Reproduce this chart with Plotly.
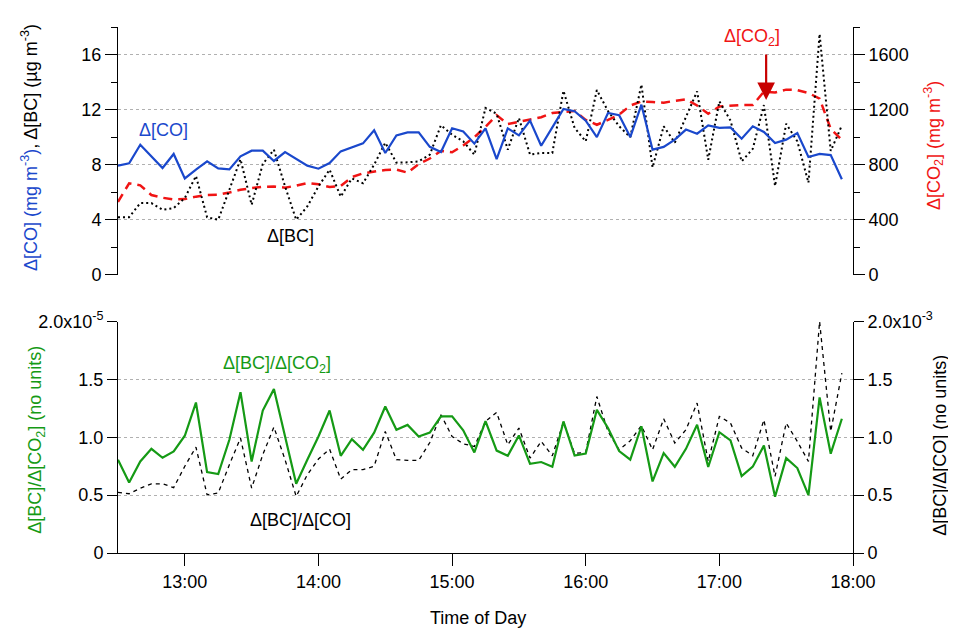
import plotly.graph_objects as go
import pandas as pd

# ---------------- data ----------------
start_time = "2000-01-01 12:30"
n_points = 66
step = "5min"

delta_co = [7.93, 8.10, 9.45, 8.60, 7.76, 8.78, 7.00, 7.64, 8.24, 7.73,
            7.66, 8.61, 9.02, 9.02, 8.27, 8.92, 8.41, 7.93, 7.71, 8.12,
            8.97, 9.28, 9.55, 10.50, 8.85, 10.13, 10.35, 10.35, 9.30, 8.92,
            10.65, 10.41, 9.53, 10.64, 8.41, 10.64, 10.13, 11.20, 9.38, 10.71,
            12.05, 11.88, 11.20, 10.00, 11.76, 11.59, 10.01, 12.36, 9.09, 9.29,
            9.82, 10.55, 10.25, 10.86, 10.67, 10.71, 9.89, 10.79, 10.38, 9.58,
            9.82, 10.30, 8.56, 8.78, 8.70, 6.94]

delta_bc = [4.19, 4.19, 5.21, 5.21, 4.73, 4.85, 5.58, 7.18, 4.19, 4.00,
            6.18, 8.40, 5.09, 8.05, 9.09, 6.42, 4.00, 4.97, 6.42, 7.64,
            5.68, 7.00, 6.65, 8.00, 9.60, 8.15, 8.17, 8.24, 8.73, 10.87,
            10.18, 9.70, 8.73, 12.12, 11.70, 9.09, 11.39, 8.73, 8.85, 8.85,
            13.37, 10.67, 9.70, 13.42, 11.90, 10.79, 10.00, 13.82, 7.80, 10.79,
            9.60, 11.45, 13.33, 8.36, 12.60, 11.20, 8.24, 9.15, 12.33, 6.45,
            10.97, 9.70, 6.69, 17.50, 9.00, 10.85]

delta_co2 = [530, 665, 650, 580, 560, 548, 550, 568, 580, 582,
             598, 618, 630, 640, 642, 633, 648, 667, 658, 638,
             645, 710, 737, 748, 762, 765, 742, 805, 845, 900,
             890, 940, 1000, 1075, 1160, 1095, 1110, 1125, 1145, 1175,
             1185, 1190, 1125, 1090, 1125, 1164, 1229, 1260, 1255, 1250,
             1264, 1275, 1230, 1170, 1222, 1230, 1234, 1234, 1330, 1324,
             1345, 1342, 1321, 1280, 1060, 980]

# ratio BC/CO2 in units of 1e-5
ratio_bc_co2 = [0.806, 0.610, 0.791, 0.900, 0.823, 0.878, 1.013, 1.300, 0.699, 0.682,
                0.978, 1.390, 0.791, 1.231, 1.416, 1.007, 0.598, 0.806, 1.007, 1.231,
                0.840, 0.984, 0.892, 1.040, 1.266, 1.065, 1.107, 1.007, 1.041, 1.180,
                1.180, 1.060, 0.869, 1.140, 0.885, 0.840, 1.016, 0.770, 0.786, 0.745,
                1.137, 0.842, 0.860, 1.237, 1.080, 0.880, 0.806, 1.095, 0.618, 0.863,
                0.745, 0.900, 1.108, 0.743, 1.044, 0.973, 0.665, 0.746, 0.928, 0.486,
                0.820, 0.734, 0.500, 1.345, 0.858, 1.160]

# ratio BC/CO in units of 1e-3
ratio_bc_co = [0.524, 0.512, 0.560, 0.598, 0.598, 0.565, 0.750, 0.915, 0.503, 0.518,
               0.763, 0.993, 0.561, 0.849, 1.088, 0.806, 0.489, 0.676, 0.812, 0.898,
               0.639, 0.720, 0.720, 0.750, 1.050, 0.806, 0.800, 0.800, 0.955, 1.194,
               1.007, 0.944, 0.920, 1.137, 1.214, 0.935, 1.080, 0.820, 0.965, 0.840,
               1.130, 0.860, 0.870, 1.352, 1.050, 0.892, 0.970, 1.100, 0.892, 1.160,
               0.950, 1.065, 1.295, 0.791, 1.180, 1.123, 0.907, 0.840, 1.151, 0.662,
               1.123, 0.964, 0.791, 2.000, 1.050, 1.554]

hour_ticks = ["2000-01-01 13:00", "2000-01-01 14:00", "2000-01-01 15:00",
              "2000-01-01 16:00", "2000-01-01 17:00", "2000-01-01 18:00"]
hour_labels = ["13:00", "14:00", "15:00", "16:00", "17:00", "18:00"]
x_range = ["2000-01-01 12:30", "2000-01-01 18:00"]

ratio_tickvals = [0, 0.5, 1.0, 1.5, 2.0]
ratio_left_text = ["0", "0.5", "1.0", "1.5", "2.0x10<sup>-5</sup>"]
ratio_right_text = ["0", "0.5", "1.0", "1.5", "2.0x10<sup>-3</sup>"]

arrow_time = "2000-01-01 17:21"
arrow_value = 12.7

times = pd.date_range(start_time, periods=n_points, freq=step)

# ---------------- styling ----------------
BLUE = "#1a48cc"
RED = "#f01414"
DARKRED = "#c80000"
GREEN = "#159a15"
GRID = "#b0b0b0"
FONT = "Arial, Liberation Sans, sans-serif"
FS = 18

# page offset of the plot div (browser default body margin)
OFF = 8
W, H = 956 - OFF, 630 - OFF
# plot area in screen pixels
L, R, T, B = 118, 853, 27, 553.3

def fx(px):
    return (px - L) / (R - L)
def fy(py):
    return (B - py) / (B - T)

top_lo = fy(275)
bot_hi = fy(321.7)

fig = go.Figure()

# bottom panel: right axis (base) black dashed, left overlay green
fig.add_trace(go.Scatter(x=times, y=ratio_bc_co, xaxis="x", yaxis="y", mode="lines",
                         line=dict(color="black", width=1.3, dash="4px,4px")))
fig.add_trace(go.Scatter(x=times, y=ratio_bc_co2, xaxis="x", yaxis="y2", mode="lines",
                         line=dict(color=GREEN, width=2.2)))
# top panel: right axis (base) red dashed, left overlay black dotted + blue
fig.add_trace(go.Scatter(x=times, y=delta_co2, xaxis="x2", yaxis="y3", mode="lines",
                         line=dict(color=RED, width=2.5, dash="9px,6px")))
fig.add_trace(go.Scatter(x=times, y=delta_bc, xaxis="x2", yaxis="y4", mode="lines",
                         line=dict(color="black", width=2, dash="2px,3px")))
fig.add_trace(go.Scatter(x=times, y=delta_co, xaxis="x2", yaxis="y4", mode="lines",
                         line=dict(color=BLUE, width=2.2)))

axis_common = dict(showline=True, linecolor="black", linewidth=1, zeroline=False,
                   ticks="outside", tickcolor="black", tickwidth=1, automargin=False,
                   tickfont=dict(size=FS, family=FONT, color="black"))

fig.update_layout(
    width=W, height=H,
    margin=dict(l=L - OFF, r=W - (R - OFF), t=T - OFF, b=H - (B - OFF), autoexpand=False),
    plot_bgcolor="white", paper_bgcolor="white", showlegend=False,
    font=dict(family=FONT, size=FS, color="black"),
    xaxis=dict(domain=[0, 1], anchor="y", range=x_range, type="date",
               tickmode="array", tickvals=hour_ticks, ticktext=hour_labels,
               ticklen=12, showgrid=False, **axis_common),
    xaxis2=dict(domain=[0, 1], anchor="y3", matches="x", type="date",
                showticklabels=False, showline=False, ticks="", showgrid=False,
                zeroline=False),
    yaxis=dict(domain=[0, bot_hi], anchor="x", side="right", range=[0, 2],
               tickmode="array", tickvals=ratio_tickvals, ticktext=ratio_right_text,
               ticklen=10, showgrid=True, gridcolor=GRID, griddash="dot", gridwidth=1,
               **axis_common),
    yaxis2=dict(overlaying="y", anchor="x", side="left", range=[0, 2],
                tickmode="array", tickvals=ratio_tickvals, ticktext=ratio_left_text,
                ticklen=10, showgrid=False, **axis_common),
    yaxis3=dict(domain=[top_lo, 1], anchor="x2", side="right", range=[0, 1800],
                tickmode="linear", tick0=0, dtick=400, ticklen=11,
                minor=dict(tick0=0, dtick=200, ticks="outside", ticklen=6,
                           tickcolor="black", showgrid=False),
                showgrid=True, gridcolor=GRID, griddash="dot", gridwidth=1,
                **axis_common),
    yaxis4=dict(overlaying="y3", anchor="x2", side="left", range=[0, 18],
                tickmode="linear", tick0=0, dtick=4, ticklen=12,
                minor=dict(tick0=0, dtick=2, ticks="outside", ticklen=6,
                           tickcolor="black", showgrid=False),
                showgrid=False, **axis_common),
)

ann = []
def txt(px, py, text, color="black", angle=0, size=FS):
    ann.append(dict(x=fx(px), y=fy(py), xref="paper", yref="paper", text=text,
                    showarrow=False, textangle=angle, xanchor="center", yanchor="middle",
                    font=dict(family=FONT, size=size, color=color)))

# axis titles
txt(30, 148, "<span style='color:%s'>Δ[CO] (mg m<sup>-3</sup>)</span>, Δ[BC] (µg m<sup>-3</sup>)" % BLUE,
    angle=-90)
txt(934, 146, "Δ[CO<sub>2</sub>] (mg m<sup>-3</sup>)", color=RED, angle=-90)
txt(37, 440, "Δ[BC]/Δ[CO<sub>2</sub>] (no units)", color=GREEN, angle=-90)
txt(940, 446, "Δ[BC]/Δ[CO] (no units)", angle=-90)
txt(478, 618, "Time of Day")

# series labels
txt(163, 130, "Δ[CO]", color=BLUE)
txt(290, 236, "Δ[BC]")
txt(752, 38, "Δ[CO<sub>2</sub>]", color=RED)
txt(277, 365, "Δ[BC]/Δ[CO<sub>2</sub>]", color=GREEN)
txt(300, 520, "Δ[BC]/Δ[CO]")

# arrow pointing to CO2 jump
ann.append(dict(x=arrow_time, y=arrow_value, xref="x2", yref="y4", text="",
                showarrow=True, ax=0, ay=-47, axref="pixel", ayref="pixel",
                arrowhead=2, arrowsize=1.6, arrowwidth=2.2, arrowcolor=DARKRED))

fig.update_layout(annotations=ann)

fig.write_html("out.html")
